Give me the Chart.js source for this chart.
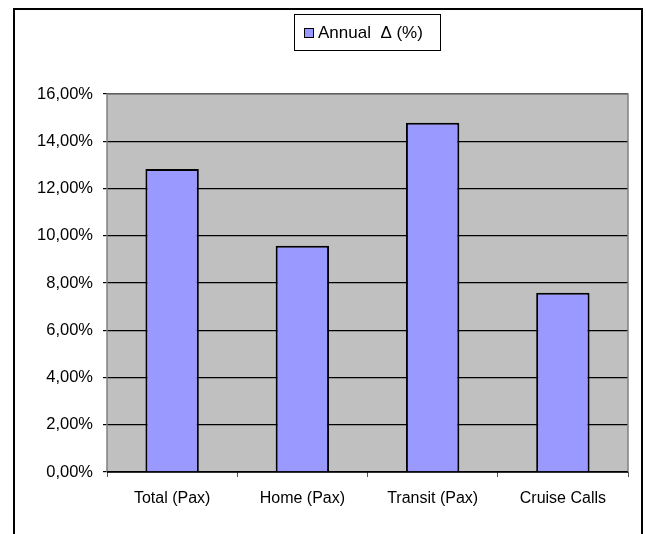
<!DOCTYPE html>
<html>
<head>
<meta charset="utf-8">
<script src="https://cdn.jsdelivr.net/npm/chart.js@4/dist/chart.umd.min.js"></script>
<style>
  html, body { margin: 0; padding: 0; background: #fff; }
  #wrap { width: 646px; height: 534px; position: relative; }
</style>
</head>
<body>
<div id="wrap"><canvas id="chart"></canvas></div>
<script>
var categories = ["Total (Pax)", "Home (Pax)", "Transit (Pax)", "Cruise Calls"];
var annualDelta = [12.83, 9.58, 14.78, 7.59];
var seriesName = "Annual  \u0394 (%)";

var FONT = "'Liberation Sans', Arial, sans-serif";
var BAR = '#9999ff';

// gray plot background, frame around the figure, boxed legend
var decor = {
  id: 'decor',
  beforeDraw: function(chart) {
    var a = chart.chartArea, c = chart.ctx;
    c.save();
    c.fillStyle = '#c0c0c0';
    c.fillRect(a.left, a.top, a.right - a.left, a.bottom - a.top);
    c.restore();
  },
  afterDraw: function(chart) {
    var a = chart.chartArea, c = chart.ctx;
    c.save();
    c.strokeStyle = '#808080';
    c.lineWidth = 1.5;
    c.beginPath();
    c.moveTo(a.left, a.bottom);
    c.lineTo(a.left, a.top);
    c.lineTo(a.right, a.top);
    c.lineTo(a.right, a.bottom);
    c.stroke();
    c.strokeStyle = '#000';
    c.beginPath();
    c.moveTo(a.left, a.bottom);
    c.lineTo(a.right, a.bottom);
    c.stroke();

    // outer frame
    c.lineWidth = 2;
    c.strokeRect(14, 9, 628, 540);

    // legend
    c.lineWidth = 1;
    c.strokeRect(294.5, 14.5, 146, 36);
    c.fillStyle = BAR;
    c.fillRect(304.5, 28.5, 9, 9);
    c.strokeRect(304.5, 28.5, 9, 9);
    c.fillStyle = '#000';
    c.font = '17px ' + FONT;
    c.textBaseline = 'middle';
    c.textAlign = 'left';
    c.fillText(seriesName, 318, 33);
    c.restore();
  }
};

var ctx = document.getElementById('chart').getContext('2d');
new Chart(ctx, {
  type: 'bar',
  data: {
    labels: categories,
    datasets: [{
      label: seriesName,
      data: annualDelta,
      backgroundColor: BAR,
      borderColor: '#000000',
      borderWidth: 2,
      barPercentage: 0.41,
      categoryPercentage: 1.0
    }]
  },
  options: {
    responsive: true,
    maintainAspectRatio: false,
    animation: false,
    devicePixelRatio: 1,
    layout: { padding: { left: 10, right: 18, top: 94, bottom: 10 } },
    plugins: {
      legend: { display: false },
      tooltip: { enabled: false }
    },
    scales: {
      x: {
        offset: true,
        grid: {
          offset: true,
          drawOnChartArea: false,
          drawTicks: true,
          tickLength: 5,
          color: '#555'
        },
        border: { display: false },
        ticks: { color: '#000', font: { family: FONT, size: 16 }, padding: 12, maxRotation: 0 },
        afterFit: function(s) { s.height = 52; }
      },
      y: {
        min: 0,
        max: 16,
        ticks: {
          stepSize: 2,
          color: '#000',
          font: { family: FONT, size: 16.5 },
          padding: 10,
          callback: function(v) { return v.toFixed(2).replace('.', ',') + '%'; }
        },
        grid: { color: '#000', lineWidth: 1.2, tickLength: 4 },
        border: { display: false },
        afterFit: function(s) { s.width = 97; }
      }
    }
  },
  plugins: [decor]
});
</script>
</body>
</html>
